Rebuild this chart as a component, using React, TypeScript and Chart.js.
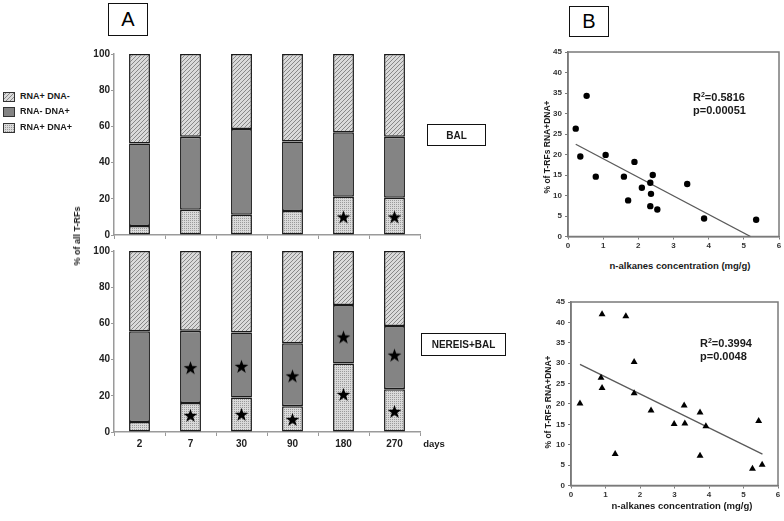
import React, { useEffect, useRef } from 'react';
import { Chart, registerables } from 'chart.js';
Chart.register(...registerables);

// ---------- data ----------
const days = ['2', '7', '30', '90', '180', '270'];
const yTicksA = [0, 20, 40, 60, 80, 100];

// BAL (top panel A): % of all T-RFs
const balBoth = [5, 14, 11.2, 13.3, 21.2, 20.6];       // RNA+ DNA+
const balDnaOnly = [45.6, 40.3, 47.4, 38.3, 35.5, 33.7]; // RNA- DNA+
const balRnaOnly = [49.4, 45.7, 41.4, 48.4, 43.3, 45.7]; // RNA+ DNA-
const balStars = [null, null, null, null, 10, 10];

// NEREIS+BAL (bottom panel A)
const nbBoth = [5.5, 16, 19, 14.2, 37.9, 23.6];
const nbDnaOnly = [50.1, 40, 36, 34.8, 32.3, 35];
const nbRnaOnly = [44.4, 44, 45, 51, 29.8, 41.4];
const nbStarsUpper = [null, 35.5, 36.3, 31, 52.5, 42.5];
const nbStarsLower = [null, 9.2, 9.8, 7, 20.8, 11.4];

// Panel B top (BAL): n-alkanes (mg/g) vs % T-RFs RNA+DNA+
const balAlkX = [0.22, 0.53, 0.35, 0.79, 1.07, 1.59, 1.71, 1.89, 2.1, 2.34, 2.41, 2.36, 2.34, 2.54, 3.39, 3.87, 5.35];
const balAlkY = [26.3, 34.3, 19.5, 14.6, 19.9, 14.6, 8.8, 18.2, 11.9, 13.1, 15.0, 10.4, 7.4, 6.6, 12.8, 4.4, 4.1];
const balTrendX = [0.22, 5.19];
const balTrendY = [22.5, 0];

// Panel B bottom (NEREIS+BAL)
const nbAlkX = [0.26, 0.9, 0.87, 0.9, 1.28, 1.59, 1.83, 1.83, 2.32, 2.99, 3.28, 3.3, 3.74, 3.74, 3.91, 5.26, 5.44, 5.54];
const nbAlkY = [20.1, 42.0, 26.4, 23.9, 7.7, 41.5, 30.3, 22.6, 18.4, 15.1, 19.6, 15.2, 7.3, 17.9, 14.5, 4.1, 15.8, 5.1];
const nbTrendX = [0.26, 5.55];
const nbTrendY = [29.7, 7.7];

// ---------- helpers ----------
const FONT = '"Liberation Sans", Arial, Helvetica, sans-serif';

function hatchPattern(): CanvasPattern {
  const t = document.createElement('canvas');
  t.width = 4; t.height = 4;
  const c = t.getContext('2d')!;
  c.fillStyle = '#dadada';
  c.fillRect(0, 0, 4, 4);
  c.strokeStyle = '#888888';
  c.lineWidth = 1;
  c.beginPath();
  c.moveTo(0, 4); c.lineTo(4, 0);
  c.moveTo(-1, 1); c.lineTo(1, -1);
  c.moveTo(3, 5); c.lineTo(5, 3);
  c.stroke();
  return c.createPattern(t, 'repeat')!;
}

function dotPattern(): CanvasPattern {
  const t = document.createElement('canvas');
  t.width = 2; t.height = 2;
  const c = t.getContext('2d')!;
  c.fillStyle = '#dadada';
  c.fillRect(0, 0, 2, 2);
  c.fillStyle = '#9a9a9a';
  c.fillRect(0, 0, 1, 1);
  return c.createPattern(t, 'repeat')!;
}

const SOLID = '#848484';

function starImage(): HTMLCanvasElement {
  const s = 15;
  const t = document.createElement('canvas');
  t.width = s; t.height = s;
  const c = t.getContext('2d')!;
  const cx = s / 2, cy = s / 2 + 0.6, R = 7.2, r = 2.9;
  c.beginPath();
  for (let i = 0; i < 10; i++) {
    const ang = -Math.PI / 2 + (i * Math.PI) / 5;
    const rad = i % 2 === 0 ? R : r;
    const x = cx + rad * Math.cos(ang), y = cy + rad * Math.sin(ang);
    if (i === 0) c.moveTo(x, y); else c.lineTo(x, y);
  }
  c.closePath();
  c.fillStyle = '#000';
  c.fill();
  return t;
}

function barConfig(both: number[], dnaOnly: number[], rnaOnly: number[], stars: (number | null)[][], showX: boolean, xHeight: number): any {
  const star = starImage();
  const tickFont = { family: FONT, size: 10, weight: 'bold' as const };
  const barCommon = { borderColor: '#1a1a1a', borderWidth: 1.5, borderSkipped: false, barPercentage: 0.41, categoryPercentage: 1, order: 2 };
  return {
    type: 'bar',
    data: {
      labels: days,
      datasets: [
        ...stars.map((s, i) => ({
          type: 'line', data: s, stack: 'star' + i, showLine: false,
          pointStyle: star, pointRadius: 7, order: 1,
        })),
        { label: 'RNA+ DNA+', data: both, backgroundColor: dotPattern(), ...barCommon },
        { label: 'RNA- DNA+', data: dnaOnly, backgroundColor: SOLID, ...barCommon },
        { label: 'RNA+ DNA-', data: rnaOnly, backgroundColor: hatchPattern(), ...barCommon },
      ],
    },
    options: {
      animation: false,
      responsive: false,
      layout: { padding: { top: 10, right: 10, left: 0, bottom: 0 } },
      plugins: { legend: { display: false }, tooltip: { enabled: false } },
      scales: {
        x: {
          stacked: true,
          grid: { offset: true, drawOnChartArea: false, tickLength: 4, color: '#9a9a9a', lineWidth: 1 },
          border: { color: '#9a9a9a', width: 1.5 },
          ticks: { display: showX, font: tickFont, color: '#222', padding: 2 },
          afterFit: (s: any) => { s.height = xHeight; },
        },
        y: {
          stacked: true, min: 0, max: 100,
          afterBuildTicks: (s: any) => { s.ticks = yTicksA.map(v => ({ value: v })); },
          ticks: { font: tickFont, color: '#222', padding: 1 },
          grid: { drawOnChartArea: false, tickLength: 3, color: '#9a9a9a' },
          border: { color: '#9a9a9a', width: 1.5 },
          afterFit: (s: any) => { s.width = 38; },
        },
      },
    },
  };
}

const boxPlugin = {
  id: 'plotBox',
  beforeDatasetsDraw(chart: any) {
    const { ctx, chartArea: a } = chart;
    ctx.save();
    ctx.strokeStyle = '#7a7a7a';
    ctx.lineWidth = 1.5;
    ctx.strokeRect(a.left, a.top, a.right - a.left, a.bottom - a.top);
    ctx.restore();
  },
};

function scatterConfig(xs: number[], ys: number[], tx: number[], ty: number[], marker: string, radius: number, yWidth: number, xHeight: number, padRight: number): any {
  const tickFont = { family: FONT, size: 8, weight: 'bold' as const };
  return {
    type: 'scatter',
    data: {
      datasets: [
        {
          data: xs.map((x, i) => ({ x, y: ys[i] })),
          pointStyle: marker, pointRadius: radius,
          backgroundColor: '#000', borderColor: '#000', borderWidth: 0,
        },
        {
          type: 'line',
          data: tx.map((x, i) => ({ x, y: ty[i] })),
          borderColor: '#5a5a5a', borderWidth: 1.3, pointRadius: 0, showLine: true, fill: false,
        },
      ],
    },
    options: {
      animation: false,
      responsive: false,
      layout: { padding: { top: 10, right: padRight, left: 0, bottom: 0 } },
      plugins: { legend: { display: false }, tooltip: { enabled: false } },
      scales: {
        x: {
          type: 'linear', min: 0, max: 6,
          ticks: { stepSize: 1, font: tickFont, color: '#333', padding: 1 },
          grid: { drawOnChartArea: false, tickLength: 3, color: '#7a7a7a' },
          border: { color: '#7a7a7a', width: 1.5 },
          afterFit: (s: any) => { s.height = xHeight; },
        },
        y: {
          type: 'linear', min: 0, max: 45,
          ticks: { stepSize: 5, font: tickFont, color: '#333', padding: 3 },
          grid: { drawOnChartArea: false, tickLength: 3, color: '#7a7a7a' },
          border: { color: '#7a7a7a', width: 1.5 },
          afterFit: (s: any) => { s.width = yWidth; },
        },
      },
    },
    plugins: [boxPlugin],
  };
}

function ChartBox(props: { left: number; top: number; width: number; height: number; make: () => any }) {
  const ref = useRef<HTMLCanvasElement>(null);
  useEffect(() => {
    const chart = new Chart(ref.current!, props.make());
    return () => chart.destroy();
  }, []);
  return (
    <canvas
      ref={ref}
      width={props.width}
      height={props.height}
      style={{ position: 'absolute', left: props.left, top: props.top, width: props.width, height: props.height }}
    />
  );
}

function Swatch(props: { left: number; top: number; kind: 'hatch' | 'solid' | 'dots' }) {
  const ref = useRef<HTMLCanvasElement>(null);
  useEffect(() => {
    const c = ref.current!.getContext('2d')!;
    c.fillStyle = props.kind === 'hatch' ? hatchPattern() : props.kind === 'dots' ? dotPattern() : SOLID;
    c.fillRect(0, 0, 12, 10);
    c.strokeStyle = '#333';
    c.lineWidth = 1;
    c.strokeRect(0.5, 0.5, 11, 9);
  }, []);
  return <canvas ref={ref} width={12} height={10} style={{ position: 'absolute', left: props.left, top: props.top }} />;
}

const centered = (x: number, y: number, extra: React.CSSProperties = {}): React.CSSProperties => ({
  position: 'absolute', left: x, top: y, transform: 'translate(-50%, -50%)', whiteSpace: 'nowrap', ...extra,
});
const vertical = (x: number, y: number, extra: React.CSSProperties = {}): React.CSSProperties => ({
  position: 'absolute', left: x, top: y, transform: 'translate(-50%, -50%) rotate(-90deg)', whiteSpace: 'nowrap', ...extra,
});
const boxed = (l: number, t: number, w: number, h: number, extra: React.CSSProperties = {}): React.CSSProperties => ({
  position: 'absolute', left: l, top: t, width: w, height: h, boxSizing: 'border-box',
  border: '1.5px solid #111', display: 'flex', alignItems: 'center', justifyContent: 'center', ...extra,
});

export default function App() {
  const bold = { fontWeight: 'bold' as const, color: '#1a1a1a' };
  return (
    <div style={{ position: 'fixed', left: 0, top: 0, width: 784, height: 521, background: '#fff', fontFamily: FONT, overflow: 'hidden' }}>
      <ChartBox left={76} top={44} width={354} height={206} make={() => barConfig(balBoth, balDnaOnly, balRnaOnly, [balStars], false, 15)} />
      <ChartBox left={76} top={241} width={354} height={215} make={() => barConfig(nbBoth, nbDnaOnly, nbRnaOnly, [nbStarsUpper, nbStarsLower], true, 24)} />
      <ChartBox left={536} top={42} width={248} height={212} make={() => scatterConfig(balAlkX, balAlkY, balTrendX, balTrendY, 'circle', 3.2, 32, 17.5, 5)} />
      <ChartBox left={536} top={292} width={248} height={212} make={() => scatterConfig(nbAlkX, nbAlkY, nbTrendX, nbTrendY, 'triangle', 4, 35, 18.5, 6)} />

      {/* panel letters */}
      <div style={boxed(108, 3, 40, 33, { fontSize: 20, border: '1px solid #111' })}>A</div>
      <div style={boxed(569, 6, 40, 31, { fontSize: 20, border: '1px solid #111' })}>B</div>

      {/* treatment boxes */}
      <div style={boxed(427, 124, 59, 22, { fontSize: 10, ...bold })}>BAL</div>
      <div style={boxed(421, 333, 85, 23, { fontSize: 10, ...bold })}>NEREIS+BAL</div>

      {/* legend */}
      <Swatch left={3} top={92} kind="hatch" />
      <Swatch left={3} top={107} kind="solid" />
      <Swatch left={3} top={123} kind="dots" />
      <div style={{ position: 'absolute', left: 20, top: 91, fontSize: 9, ...bold }}>RNA+ DNA-</div>
      <div style={{ position: 'absolute', left: 20, top: 106, fontSize: 9, ...bold }}>RNA- DNA+</div>
      <div style={{ position: 'absolute', left: 20, top: 122, fontSize: 9, ...bold }}>RNA+ DNA+</div>

      {/* axis titles */}
      <div style={vertical(77, 236, { fontSize: 9, ...bold })}>% of all T-RFs</div>
      <div style={centered(434, 443, { fontSize: 9.5, ...bold })}>days</div>

      <div style={vertical(547, 147, { fontSize: 8.5, ...bold })}>% of T-RFs RNA+DNA+</div>
      <div style={centered(680, 265, { fontSize: 9.5, ...bold })}>n-alkanes concentration (mg/g)</div>
      <div style={vertical(548, 402, { fontSize: 8.5, ...bold })}>% of T-RFs RNA+DNA+</div>
      <div style={centered(682, 505, { fontSize: 9.5, ...bold })}>n-alkanes concentration (mg/g)</div>

      {/* stats */}
      <div style={{ position: 'absolute', left: 693, top: 91, fontSize: 11, lineHeight: '13px', ...bold }}>
        R<sup style={{ fontSize: 7, verticalAlign: 'top', lineHeight: '7px' }}>2</sup>=0.5816<br />p=0.00051
      </div>
      <div style={{ position: 'absolute', left: 700, top: 337, fontSize: 11, lineHeight: '13px', ...bold }}>
        R<sup style={{ fontSize: 7, verticalAlign: 'top', lineHeight: '7px' }}>2</sup>=0.3994<br />p=0.0048
      </div>
    </div>
  );
}
